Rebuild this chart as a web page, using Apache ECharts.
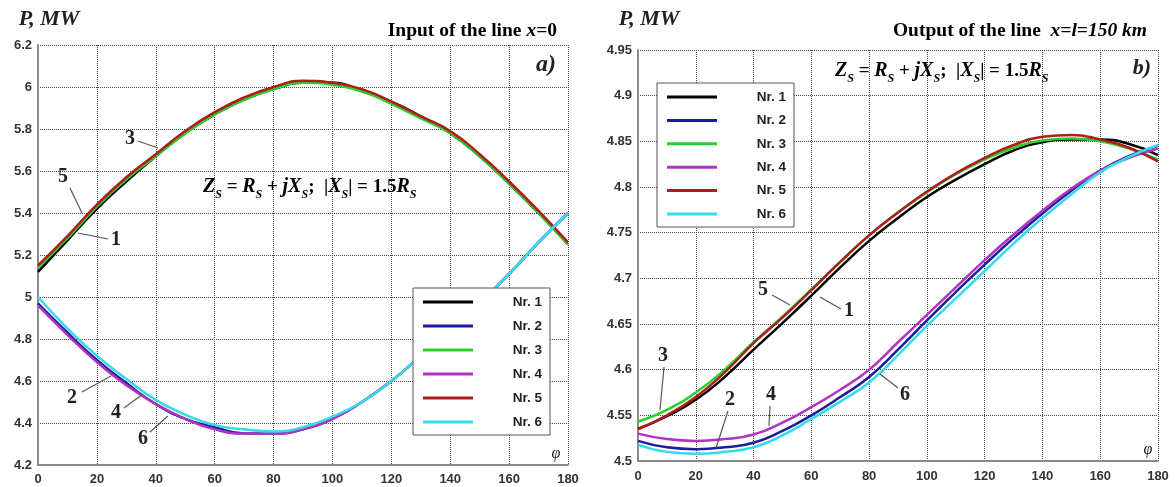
<!DOCTYPE html>
<html>
<head>
<meta charset="utf-8">
<script src="https://cdn.jsdelivr.net/npm/echarts@6/dist/echarts.min.js"></script>
<style>
  html, body { margin: 0; padding: 0; background: #fff; }
  #main { width: 1175px; height: 487px; }
</style>
</head>
<body>
<div id="main"></div>
<script>
// angle φ, degrees
const phi = [0, 10, 20, 30, 40, 50, 60, 70, 80, 90, 100, 110, 120, 130, 140, 150, 160, 170, 180];

// a) input of the line x=0, P in MW
const inNr1 = [5.12, 5.27, 5.42, 5.55, 5.67, 5.78, 5.87, 5.94, 5.99, 6.02, 6.02, 5.98, 5.93, 5.86, 5.78, 5.67, 5.54, 5.40, 5.25];
const inNr2 = [4.97, 4.83, 4.70, 4.59, 4.49, 4.42, 4.38, 4.35, 4.35, 4.37, 4.42, 4.50, 4.60, 4.72, 4.84, 4.97, 5.11, 5.26, 5.40];
const inNr3 = [5.14, 5.28, 5.43, 5.56, 5.67, 5.78, 5.87, 5.94, 5.99, 6.02, 6.01, 5.98, 5.92, 5.85, 5.78, 5.67, 5.54, 5.40, 5.25];
const inNr4 = [4.96, 4.82, 4.69, 4.58, 4.49, 4.42, 4.37, 4.35, 4.35, 4.37, 4.42, 4.50, 4.60, 4.72, 4.84, 4.97, 5.11, 5.26, 5.40];
const inNr5 = [5.15, 5.29, 5.44, 5.57, 5.68, 5.79, 5.88, 5.95, 6.00, 6.03, 6.02, 5.99, 5.93, 5.86, 5.79, 5.68, 5.55, 5.41, 5.26];
const inNr6 = [5.00, 4.85, 4.72, 4.61, 4.51, 4.44, 4.39, 4.37, 4.36, 4.38, 4.43, 4.50, 4.60, 4.72, 4.84, 4.97, 5.11, 5.26, 5.40];

// b) output of the line x=l=150 km
const outNr1 = [4.535, 4.549, 4.567, 4.592, 4.622, 4.651, 4.681, 4.712, 4.741, 4.766, 4.789, 4.808, 4.825, 4.840, 4.849, 4.852, 4.852, 4.847, 4.835];
const outNr2 = [4.522, 4.515, 4.513, 4.515, 4.520, 4.533, 4.550, 4.570, 4.592, 4.622, 4.654, 4.685, 4.715, 4.744, 4.771, 4.796, 4.818, 4.834, 4.845];
const outNr3 = [4.543, 4.556, 4.575, 4.600, 4.630, 4.658, 4.688, 4.718, 4.747, 4.772, 4.794, 4.814, 4.830, 4.843, 4.851, 4.853, 4.850, 4.842, 4.830];
const outNr4 = [4.530, 4.524, 4.522, 4.524, 4.529, 4.542, 4.559, 4.578, 4.600, 4.630, 4.660, 4.690, 4.720, 4.748, 4.774, 4.798, 4.818, 4.832, 4.842];
const outNr5 = [4.535, 4.550, 4.570, 4.597, 4.629, 4.657, 4.687, 4.718, 4.747, 4.772, 4.795, 4.815, 4.832, 4.846, 4.855, 4.857, 4.852, 4.843, 4.828];
const outNr6 = [4.518, 4.510, 4.508, 4.510, 4.515, 4.528, 4.546, 4.565, 4.586, 4.616, 4.648, 4.678, 4.708, 4.738, 4.766, 4.792, 4.816, 4.833, 4.846];

const names = ['Nr. 1', 'Nr. 2', 'Nr. 3', 'Nr. 4', 'Nr. 5', 'Nr. 6'];
const colors = ['#000000', '#1c1c9c', '#2bd02b', '#b232c2', '#b01c1c', '#34dbe8'];

const chart = echarts.init(document.getElementById('main'));

const serif = '"Liberation Serif", "DejaVu Serif", serif';
const sans = '"Liberation Sans", Arial, sans-serif';

function mkSeries(name, color, vals, gi) {
  return {
    name: name,
    type: 'line',
    xAxisIndex: gi,
    yAxisIndex: gi,
    data: phi.map((p, i) => [p, vals[i]]),
    smooth: true,
    showSymbol: false,
    lineStyle: { color: color, width: 2.5 },
    itemStyle: { color: color },
  };
}

function xAx(gi, margin) {
  return {
    type: 'value', gridIndex: gi, min: 0, max: 180, interval: 20,
    axisLine: { show: true, onZero: false, lineStyle: { color: '#8a8a8a', width: 2 } },
    axisTick: { show: false },
    axisLabel: { color: '#333', fontFamily: sans, fontWeight: 'bold', fontSize: 13, margin: margin },
    splitLine: { show: true, lineStyle: { type: 'dotted', color: '#444', width: 1 } },
  };
}
function yAx(gi, min, max, step) {
  return {
    type: 'value', gridIndex: gi, min: min, max: max, interval: step,
    axisLine: { show: true, onZero: false, lineStyle: { color: '#8a8a8a', width: 2 } },
    axisTick: { show: false },
    axisLabel: { color: '#333', fontFamily: sans, fontWeight: 'bold', fontSize: 13, margin: 6 },
    splitLine: { show: true, lineStyle: { type: 'dotted', color: '#444', width: 1 } },
  };
}

function legendAt(left, top, gap) {
  return {
    orient: 'vertical',
    left: left, top: top,
    data: names,
    icon: 'rect',
    itemWidth: 50, itemHeight: 3,
    itemGap: gap,
    padding: [7, 8, 6, 10],
    backgroundColor: '#fff',
    borderColor: '#555', borderWidth: 1,
    selectedMode: false,
    formatter: n => '{a|' + n + '}',
    textStyle: {
      rich: { a: { width: 64, align: 'right', fontFamily: sans, fontWeight: 'bold', fontSize: 13.5, color: '#222', lineHeight: 16 } },
    },
  };
}

// formula: Z_S = R_S + jX_S;  |X_S| = 1.5R_S
const formulaText = '{i|Z}{s|S}{n| = }{i|R}{s|S}{n| + }{i|jX}{s|S}{n|;  |}{i|X}{s|S}{n|| = 1.5}{i|R}{s|S}';
const formulaRich = {
  i: { fontFamily: serif, fontStyle: 'italic', fontWeight: 'bold', fontSize: 20, color: '#222', lineHeight: 28, verticalAlign: 'middle' },
  n: { fontFamily: serif, fontWeight: 'bold', fontSize: 19, color: '#222', lineHeight: 28, verticalAlign: 'middle' },
  s: { fontFamily: serif, fontStyle: 'italic', fontWeight: 'bold', fontSize: 12, color: '#222', lineHeight: 14, verticalAlign: 'bottom' },
};

function txt(x, y, text, size, opts) {
  return {
    type: 'text', x: x, y: y, z: 100,
    style: Object.assign({
      text: text, fontFamily: serif, fontWeight: 'bold', fontSize: size, fill: '#222',
      align: 'center', verticalAlign: 'middle',
    }, opts || {}),
  };
}
function lead(x1, y1, x2, y2) {
  return { type: 'line', z: 100, shape: { x1, y1, x2, y2 }, style: { stroke: '#555', lineWidth: 1.2 } };
}

const headRich = {
  n: { fontFamily: serif, fontWeight: 'bold', fontSize: 19.5, color: '#222' },
  i: { fontFamily: serif, fontWeight: 'bold', fontStyle: 'italic', fontSize: 19.5, color: '#222' },
};

const option = {
  backgroundColor: '#fff',
  animation: false,
  grid: [
    { left: 38, top: 45, width: 530, height: 420 },
    { left: 638, top: 50, width: 520, height: 411 },
  ],
  xAxis: [xAx(0, 8), xAx(1, 9)],
  yAxis: [yAx(0, 4.2, 6.2, 0.2), yAx(1, 4.5, 4.95, 0.05)],
  legend: [legendAt(413, 288, 10), legendAt(657, 83, 9.4)],
  series: [
    mkSeries(names[0], colors[0], inNr1, 0),
    mkSeries(names[1], colors[1], inNr2, 0),
    mkSeries(names[2], colors[2], inNr3, 0),
    mkSeries(names[3], colors[3], inNr4, 0),
    mkSeries(names[4], colors[4], inNr5, 0),
    mkSeries(names[5], colors[5], inNr6, 0),
    mkSeries(names[0], colors[0], outNr1, 1),
    mkSeries(names[1], colors[1], outNr2, 1),
    mkSeries(names[2], colors[2], outNr3, 1),
    mkSeries(names[3], colors[3], outNr4, 1),
    mkSeries(names[4], colors[4], outNr5, 1),
    mkSeries(names[5], colors[5], outNr6, 1),
  ],
  graphic: [
    // axis titles
    txt(49, 19, 'P, MW', 22, { fontStyle: 'italic' }),
    txt(649, 19, 'P, MW', 22, { fontStyle: 'italic' }),
    txt(556, 454, 'φ', 16, { fontStyle: 'italic', fontWeight: 'normal' }),
    txt(1148, 450, 'φ', 16, { fontStyle: 'italic', fontWeight: 'normal' }),
    // panel headings
    {
      type: 'text', x: 557, y: 31, z: 100,
      style: { text: '{n|Input of the line }{i|x}{n|=0}', align: 'right', verticalAlign: 'middle', rich: headRich },
    },
    {
      type: 'text', x: 1147, y: 31, z: 100,
      style: { text: '{n|Output of the line  }{i|x=l=150 km}', align: 'right', verticalAlign: 'middle', rich: headRich },
    },
    txt(546, 65, 'a)', 24, { fontStyle: 'italic' }),
    txt(1142, 68, 'b)', 22, { fontStyle: 'italic' }),
    // formulas
    { type: 'text', x: 203, y: 187, z: 100, style: { text: formulaText, rich: formulaRich, align: 'left', verticalAlign: 'middle' } },
    { type: 'text', x: 835, y: 71, z: 100, style: { text: formulaText, rich: formulaRich, align: 'left', verticalAlign: 'middle' } },
    // curve numbers, panel a)
    txt(130, 139, '3', 20), lead(138, 141, 158, 148),
    txt(63, 177, '5', 20), lead(70, 188, 82, 213),
    txt(116, 240, '1', 20), lead(108, 239, 78, 233),
    txt(72, 398, '2', 20), lead(82, 392, 111, 376),
    txt(116, 413, '4', 20), lead(124, 408, 143, 394),
    txt(143, 439, '6', 20), lead(150, 432, 168, 416),
    // curve numbers, panel b)
    txt(663, 356, '3', 20), lead(664, 367, 660, 410),
    txt(730, 400, '2', 20), lead(728, 411, 716, 448),
    txt(771, 395, '4', 20), lead(770, 406, 769, 426),
    txt(763, 290, '5', 20), lead(772, 295, 790, 305),
    txt(849, 311, '1', 20), lead(841, 309, 820, 297),
    txt(905, 395, '6', 20), lead(898, 388, 880, 374),
  ],
};

chart.setOption(option);
</script>
</body>
</html>
